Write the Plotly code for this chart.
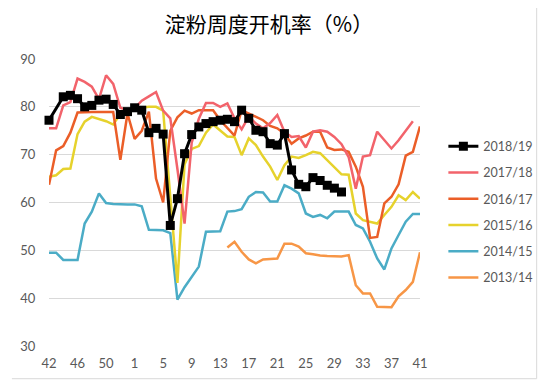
import plotly.graph_objects as go

# Week categories: week 42..53 of the first year, then week 1..41
weeks = [str(w) for w in range(42, 54)] + [str(w) for w in range(1, 42)]
tick_weeks = ["42", "46", "50", "1", "5", "9", "13", "17", "21", "25", "29", "33", "37", "41"]
y_ticks = [30, 40, 50, 60, 70, 80, 90]

s2018 = [77.2, None, 82.1, 82.4, 81.7, 80.0, 80.3, 81.4, 81.6, 80.5,
         78.4, 79.0, 79.8, 79.3, 74.6, 75.5, 74.3, 55.2, 60.8, 70.2,
         74.2, 75.8, 76.5, 76.9, 77.2, 77.4, 76.9, 79.3, 77.6, 75.1,
         74.8, 72.3, 72.0, 74.4, 66.8, 63.8, 63.3, 65.2, 64.6, 63.6,
         63.0, 62.2] + [None] * 11

s2017 = [75.5, 75.5, 80.3, 81.0, 85.9, 85.2, 84.2, 81.6, 86.6, 84.8,
         79.8, 79.3, 79.7, 81.3, 82.2, 83.1, 79.2, 77.6, 67.0, 55.6,
         72.5, 77.5, 80.8, 80.8, 80.0, 80.7, 77.6, 75.3, 78.0, 76.5,
         75.5, 76.6, 78.3, 74.8, 73.7, 73.9, 71.5, 74.8, 75.1, 74.8,
         73.7, 72.2, 69.5, 62.9, 69.6, 69.9, 74.8, 73.0, 71.3, 73.0,
         75.1, 77.0, None]

s2016 = [63.7, 70.9, 71.8, 74.6, 78.8, 78.9, 78.9, 78.9, 78.9, 78.9,
         68.9, 78.6, 73.3, 75.0, 79.0, 65.0, 60.0, 75.0, 77.8, 79.2,
         78.6, 79.3, 79.3, 79.3, 77.2, 75.6, 74.0, 79.3, 78.6, 78.0,
         77.2, 76.0, 75.5, 74.4, 72.3, 73.4, 74.0, 74.8, 74.8, 71.5,
         71.0, 71.1, 70.6, 67.5, 63.3, 52.6, 52.8, 59.8, 61.2, 63.8,
         69.8, 70.6, 75.9]

s2015 = [65.4, 65.7, 67.0, 67.1, 74.3, 76.9, 77.9, 77.4, 77.0, 76.3,
         78.5, 79.1, 79.5, 79.8, 80.0, 80.0, 79.2, 62.0, 43.2, 68.0,
         71.2, 71.8, 74.6, 76.3, 75.0, 73.8, 73.7, 69.9, 73.4, 72.0,
         69.6, 67.5, 64.7, 67.8, 69.6, 69.3, 69.9, 70.6, 70.3, 68.9,
         67.5, 65.9, 65.8, 57.7, 56.3, 56.0, 55.6, 57.4, 59.1, 61.5,
         60.5, 62.2, 60.8]

s2014 = [49.5, 49.5, 48.0, 48.0, 48.0, 55.6, 58.1, 61.9, 59.9, 59.7,
         59.6, 59.6, 59.6, 59.2, 54.3, 54.2, 54.2, 53.6, 39.7, 42.3,
         44.5, 46.6, 53.9, 53.9, 54.0, 58.1, 58.2, 58.6, 61.2, 62.2,
         62.1, 60.2, 60.2, 63.6, 62.9, 61.9, 57.7, 57.0, 57.4, 56.7,
         58.1, 58.1, 58.1, 55.3, 54.6, 51.8, 48.3, 46.0, 50.4, 53.2,
         56.0, 57.6, 57.6]

s2013 = [None] * 25 + [50.6, 51.8, 49.7, 48.1, 47.3,
         48.1, 48.2, 48.3, 51.4, 51.4, 50.8, 49.4, 49.2, 48.9, 48.8,
         48.7, 48.7, 49.0, 42.7, 41.0, 41.0, 38.2, 38.1, 38.1, 40.4,
         41.7, 43.4, 49.6]

series = [
    ("2013/14", s2013, "#F79646", 6),
    ("2014/15", s2014, "#4BACC6", 5),
    ("2015/16", s2015, "#E6D22C", 4),
    ("2016/17", s2016, "#EB5E28", 3),
    ("2017/18", s2017, "#F2636B", 2),
]

fig = go.Figure()
for name, vals, color, rank in series:
    fig.add_trace(go.Scatter(
        x=weeks, y=vals, name=name, mode="lines", legendgroup=name, legendrank=rank,
        line=dict(color=color, width=2.5), connectgaps=False,
    ))
fig.add_trace(go.Scatter(
    x=weeks, y=s2018, name="2018/19", mode="lines+markers", legendgroup="2018/19",
    legendrank=1,
    line=dict(color="#000000", width=3),
    marker=dict(symbol="square", size=9, color="#000000"),
    connectgaps=True, cliponaxis=False,
))

fig.update_layout(
    width=542, height=375,
    margin=dict(l=33.5, r=127, t=51, b=35),
    paper_bgcolor="white", plot_bgcolor="white",
    font=dict(family="Lato, Open Sans, sans-serif", color="#595959", size=13),
    title=dict(text="淀粉周度开机率（%）", xref="container", x=0.4815, xanchor="center",
               yref="container", y=0.955, yanchor="middle",
               font=dict(family="Noto Sans CJK SC", size=21, color="#000000")),
    xaxis=dict(type="category", categoryorder="array", categoryarray=weeks,
               range=[0, 52], tickmode="array", tickvals=tick_weeks, ticktext=tick_weeks,
               showgrid=False, zeroline=False, showline=False,
               ticks="outside", ticklen=5, tickcolor="rgba(0,0,0,0)",
               tickfont=dict(size=13, color="#595959")),
    yaxis=dict(range=[30, 90], tickvals=y_ticks, showgrid=True, gridcolor="#D9D9D9",
               gridwidth=1, zeroline=False, showline=False,
               ticks="outside", ticklen=10, tickcolor="rgba(0,0,0,0)",
               tickfont=dict(size=13, color="#595959")),
    legend=dict(x=1.063, xanchor="left", y=0.747, yanchor="top",
                traceorder="grouped", tracegroupgap=7, itemwidth=30,
                font=dict(size=12.5, color="#595959"), bgcolor="rgba(0,0,0,0)"),
    shapes=[
        dict(type="line", xref="paper", yref="paper",
             x0=1.3145, x1=1.3145, y0=-0.114, y1=1.2,
             line=dict(color="#D9D9D9", width=1), layer="below"),
        dict(type="line", xref="paper", yref="paper",
             x0=-0.1, x1=1.3145, y0=-0.114, y1=-0.114,
             line=dict(color="#D9D9D9", width=1), layer="below"),
    ],
)

fig.write_html("out.html")
